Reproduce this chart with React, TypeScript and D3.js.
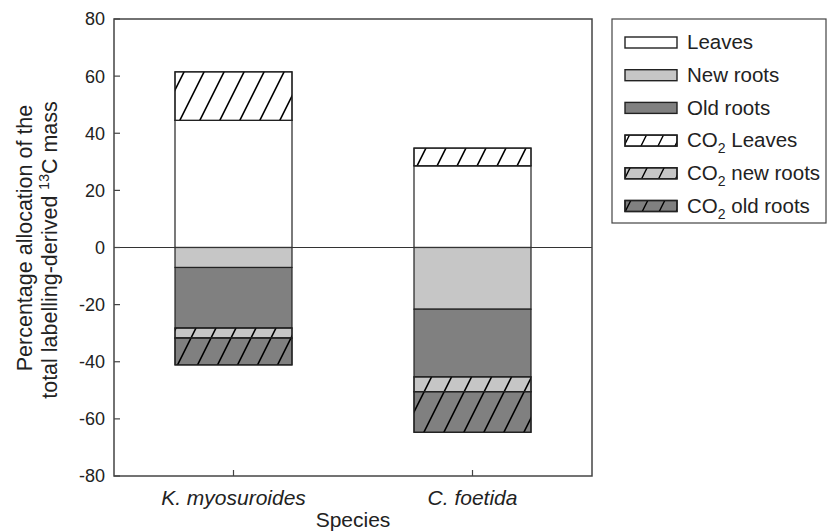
import React from "react";
import * as d3 from "d3";

const species = ["K. myosuroides", "C. foetida"];
// positive components (stacked upward)
const leaves = [44.5, 28.6];
const co2Leaves = [17.0, 6.2];
// negative components (stacked downward)
const newRoots = [7.0, 21.6];
const oldRoots = [21.2, 23.7];
const co2NewRoots = [3.5, 5.2];
const co2OldRoots = [9.4, 14.2];
const yTicks = [80, 60, 40, 20, 0, -20, -40, -60, -80];

const legendItems = [
  { key: "leaves", label: "Leaves", fill: "#ffffff", hatch: false },
  { key: "newRoots", label: "New roots", fill: "#c6c6c6", hatch: false },
  { key: "oldRoots", label: "Old roots", fill: "#808080", hatch: false },
  { key: "co2Leaves", label: " Leaves", fill: "#ffffff", hatch: true },
  { key: "co2NewRoots", label: " new roots", fill: "#c6c6c6", hatch: true },
  { key: "co2OldRoots", label: " old roots", fill: "#808080", hatch: true },
];

const W = 829;
const H = 532;
const L = 114, R = 592, T = 19, B = 476;
const FONT = "Arial, 'Liberation Sans', sans-serif";

export default function App() {
  const y = d3.scaleLinear().domain([-80, 80]).range([B, T]);
  const x = d3.scalePoint<string>().domain(species).range([L, R]).padding(0.5);
  const bw = 117;

  const segs: { x0: number; y0: number; y1: number; fill: string; hatch: boolean; k: string }[] = [];
  species.forEach((s, i) => {
    const cx = x(s)!;
    let top = 0;
    segs.push({ x0: cx - bw / 2, y0: top, y1: top + leaves[i], fill: "#ffffff", hatch: false, k: s + "l" });
    top += leaves[i];
    segs.push({ x0: cx - bw / 2, y0: top, y1: top + co2Leaves[i], fill: "#ffffff", hatch: true, k: s + "cl" });
    let bot = 0;
    const negs = [
      { v: newRoots[i], fill: "#c6c6c6", hatch: false },
      { v: oldRoots[i], fill: "#808080", hatch: false },
      { v: co2NewRoots[i], fill: "#c6c6c6", hatch: true },
      { v: co2OldRoots[i], fill: "#808080", hatch: true },
    ];
    negs.forEach((n, j) => {
      segs.push({ x0: cx - bw / 2, y0: bot - n.v, y1: bot, fill: n.fill, hatch: n.hatch, k: s + "n" + j });
      bot -= n.v;
    });
  });

  const legX = 612, legY = 19, legW = 214, legH = 204;

  return (
    <svg width={W} height={H} style={{ position: "absolute", left: 0, top: 0, background: "#fff" }} fontFamily={FONT}>
      <defs>
        <pattern id="hatch" patternUnits="userSpaceOnUse" width={20} height={40}>
          <path d="M-30,60 L10,-20 M-10,60 L30,-20 M10,60 L50,-20" stroke="#000" strokeWidth={1.6} fill="none" />
        </pattern>
        <pattern id="hatchL" patternUnits="userSpaceOnUse" width={17} height={34}>
          <path d="M-25.5,51 L8.5,-17 M-8.5,51 L25.5,-17 M8.5,51 L42.5,-17" stroke="#000" strokeWidth={1.4} fill="none" />
        </pattern>
      </defs>

      {segs.map((sg) => (
        <g key={sg.k}>
          <rect x={sg.x0} y={y(sg.y1)} width={bw} height={y(sg.y0) - y(sg.y1)} fill={sg.fill} stroke="#222" strokeWidth={1.2} />
          {sg.hatch && (
            <rect x={sg.x0} y={y(sg.y1)} width={bw} height={y(sg.y0) - y(sg.y1)} fill="url(#hatch)" stroke="#222" strokeWidth={1.2} />
          )}
        </g>
      ))}

      {/* zero line */}
      <line x1={L} x2={R} y1={y(0)} y2={y(0)} stroke="#333" strokeWidth={1.2} />

      {/* frame */}
      <rect x={L} y={T} width={R - L} height={B - T} fill="none" stroke="#444" strokeWidth={1.5} />

      {/* y ticks */}
      {yTicks.map((t) => (
        <g key={t}>
          <line x1={L} x2={L + 6} y1={y(t)} y2={y(t)} stroke="#444" strokeWidth={1.2} />
          <text x={L - 9} y={y(t)} dy="0.36em" textAnchor="end" fontSize={18} fill="#222">
            {t}
          </text>
        </g>
      ))}

      {/* x ticks */}
      {species.map((s) => (
        <g key={s}>
          <line x1={x(s)} x2={x(s)} y1={B} y2={B - 6} stroke="#444" strokeWidth={1.2} />
          <text x={x(s)} y={505} textAnchor="middle" fontSize={21} fontStyle="italic" fill="#222">
            {s}
          </text>
        </g>
      ))}
      <text x={(L + R) / 2} y={527} textAnchor="middle" fontSize={21} fill="#222">
        Species
      </text>

      {/* y title */}
      <g transform="rotate(-90)">
        <text x={-238} y={32} textAnchor="middle" fontSize={21.5} fill="#222">
          Percentage allocation of the
        </text>
        <text x={-250} y={57} textAnchor="middle" fontSize={21.5} fill="#222">
          total labelling-derived <tspan fontSize={14} dy={-8}>13</tspan>
          <tspan dy={8}>C mass</tspan>
        </text>
      </g>

      {/* legend */}
      <rect x={legX} y={legY} width={legW} height={legH} fill="#fff" stroke="#444" strokeWidth={1.2} />
      {legendItems.map((it, i) => {
        const cy = 42 + i * 32.7;
        return (
          <g key={it.key}>
            <rect x={625} y={cy - 5} width={52} height={11} fill={it.fill} stroke="#222" strokeWidth={1.4} />
            {it.hatch && <rect x={625} y={cy - 5} width={52} height={11} fill="url(#hatchL)" stroke="#222" strokeWidth={1.4} />}
            <text x={687} y={cy} dy="0.36em" fontSize={20.5} fill="#222">
              {it.hatch ? (
                <>
                  CO<tspan fontSize={14} dy={6}>2</tspan>
                  <tspan dy={-6}>{it.label}</tspan>
                </>
              ) : (
                it.label
              )}
            </text>
          </g>
        );
      })}
    </svg>
  );
}
